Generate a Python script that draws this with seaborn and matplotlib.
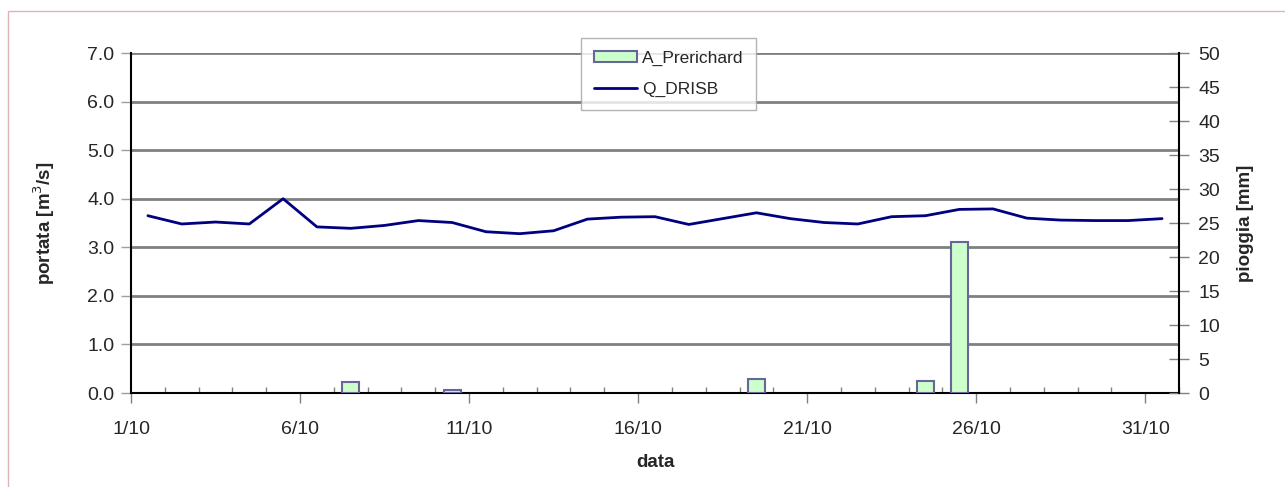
import numpy as np
import pandas as pd
import matplotlib
matplotlib.use("Agg")
import matplotlib.pyplot as plt
from matplotlib.patches import Rectangle, Patch
from matplotlib.lines import Line2D
import seaborn as sns

sns.set_theme(style="white")
plt.rcParams["font.family"] = ["Liberation Sans", "DejaVu Sans"]

# giorni di ottobre
giorni = list(range(1, 32))

# portata Q_DRISB [m3/s]
portata = [3.65, 3.48, 3.52, 3.48, 4.00, 3.42, 3.39, 3.45, 3.55, 3.51,
           3.32, 3.28, 3.34, 3.58, 3.62, 3.63, 3.47, 3.59, 3.71, 3.59,
           3.51, 3.48, 3.63, 3.65, 3.78, 3.79, 3.60, 3.56, 3.55, 3.55,
           3.59]

# pioggia A_Prerichard [mm]
pioggia = [0, 0, 0, 0, 0, 0, 1.6, 0, 0, 0.4,
           0, 0, 0, 0, 0, 0, 0, 0, 2.0, 0,
           0, 0, 0, 1.8, 22.2, 0, 0, 0, 0, 0,
           0]

etichette_x = ["1/10", "6/10", "11/10", "16/10", "21/10", "26/10", "31/10"]
tick_portata = [0, 1, 2, 3, 4, 5, 6, 7]
tick_pioggia = list(range(0, 55, 5))

df = pd.DataFrame({
    "giorno": giorni,
    "pos": np.array(giorni) - 0.5,
    "portata": portata,
    "pioggia": pioggia,
})
df_pioggia = df[df["pioggia"] > 0]

fig = plt.figure(figsize=(12.85, 4.87), dpi=100)
ax1 = fig.add_axes([131 / 1285, 1 - 393 / 487, (1179 - 131) / 1285, (393 - 53) / 487])
ax2 = ax1.twinx()

# colonne pioggia (asse destro)
sns.barplot(data=df_pioggia, x="pos", y="pioggia", ax=ax2, native_scale=True,
            color="#ccffcc", saturation=1, edgecolor="#666699", linewidth=1.5,
            width=0.5, errorbar=None)

# linea portata (asse sinistro)
sns.lineplot(data=df, x="pos", y="portata", ax=ax1, color="#000080", linewidth=2)

# asse x
ax1.set_xlim(0, 31)
ax2.set_xlim(0, 31)
ax1.set_xticks(range(0, 31, 5))
ax1.set_xticklabels(etichette_x)
ax1.set_xticks(range(0, 32), minor=True)
ax1.tick_params(axis="x", which="major", direction="out", length=7, width=1,
                color="#808080", labelsize=14, pad=13, bottom=True)
ax1.tick_params(axis="x", which="minor", direction="in", length=4, width=1,
                color="#808080", bottom=True)
ax1.set_xlabel("data", fontsize=13.5, fontweight="bold", labelpad=12)
ax2.set_xlabel("")

# asse sinistro
ax1.set_ylim(0, 7)
ax1.set_yticks(tick_portata)
ax1.set_yticklabels([f"{v:.1f}" for v in tick_portata])
ax1.tick_params(axis="y", direction="out", length=7, width=1, color="#a0a0a0",
                labelsize=14, pad=5, left=True)
ax1.set_ylabel("portata [m$^3$/s]", fontsize=13.5, fontweight="bold", labelpad=22)
ax1.yaxis.grid(True, color="#808080", linewidth=2)
ax1.xaxis.grid(False)

# asse destro
ax2.set_ylim(0, 50)
ax2.set_yticks(tick_pioggia)
ax2.tick_params(axis="y", direction="inout", length=14, width=1, color="#808080",
                labelsize=14, pad=7, right=True)
ax2.set_ylabel("pioggia [mm]", fontsize=13.5, fontweight="bold", labelpad=12)
ax2.grid(False)

for ax in (ax1, ax2):
    for s in ax.spines.values():
        s.set_visible(False)
ax1.spines["left"].set_visible(True)
ax1.spines["bottom"].set_visible(True)
ax2.spines["right"].set_visible(True)
for s in (ax1.spines["left"], ax1.spines["bottom"], ax2.spines["right"]):
    s.set_color("black")
    s.set_linewidth(1.5)

# legenda
handles = [Patch(facecolor="#ccffcc", edgecolor="#666699", linewidth=1.5),
           Line2D([], [], color="#000080", linewidth=2)]
leg = fig.legend(handles, ["A_Prerichard", "Q_DRISB"], loc="upper left",
                 bbox_to_anchor=(581 / 1285, 1 - 38 / 487), frameon=True,
                 fancybox=False, edgecolor="#a0a0a0", fontsize=12.5,
                 handlelength=2.5, handleheight=0.6, handletextpad=0.25,
                 labelspacing=0.9, borderpad=0.75, borderaxespad=0)
leg.get_frame().set_linewidth(1)

# cornice esterna
fig.patches.append(Rectangle((7.5 / 1285, -0.1), 1.2, 1.1 - 10.7 / 487,
                             transform=fig.transFigure, fill=False,
                             edgecolor="#e0b4b4", linewidth=1))

fig.savefig("out.png", dpi=100)
